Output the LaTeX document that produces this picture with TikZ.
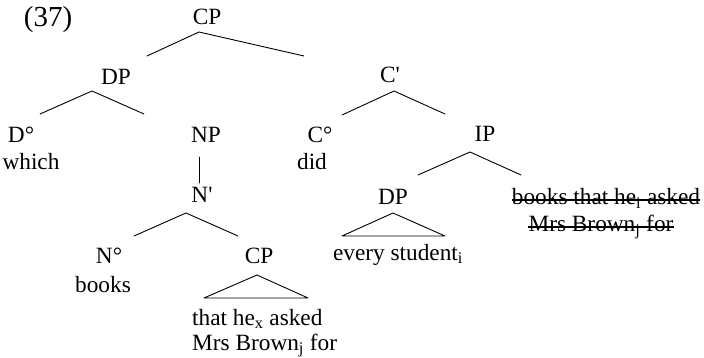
\documentclass[tikz,border=0pt]{standalone}
\usepackage{fontspec}
\setmainfont{Liberation Serif}
\begin{document}
\begin{tikzpicture}[x=1pt,y=-1pt,
  lbl/.style={anchor=base,inner sep=0pt,font=\fontsize{23.3}{27}\selectfont},
  lblw/.style={lbl,anchor=base west},
  branch/.style={line width=0.9pt,line cap=round,line join=round},
  strike/.style={line width=1.3pt}]
\useasboundingbox (0,0) rectangle (704,358);
% labels
\node[lbl,font=\fontsize{29}{33}\selectfont] (ex) at (48,27) {(37)};
\node[lbl] (cp) at (207,25) {CP};
\node[lbl] (dp) at (116,85) {DP};
\node[lbl] (d) at (21,143) {D°};
\node[lbl] (which) at (31,170) {which};
\node[lbl] (np) at (206,143) {NP};
\node[lbl] (c) at (320,143) {C°};
\node[lbl] (did) at (312,170) {did};
\node[lbl] (cbar) at (390,83) {C\textquotesingle};
\node[lbl] (ip) at (485,142) {IP};
\node[lbl] (dp2) at (393,205) {DP};
\node[lbl] (every) at (398,260) {every student\textsubscript{i}};
\node[lbl] (del1) at (606,205) {books that he\textsubscript{i} asked};
\node[lbl] (del2) at (601,232) {Mrs Brown\textsubscript{j} for};
\node[lbl] (nbar) at (202,203) {N\textquotesingle};
\node[lbl] (n) at (109,263) {N°};
\node[lbl] (books) at (103,292) {books};
\node[lbl] (cp2) at (259,263) {CP};
\node[lblw] (that) at (192,325) {that he\textsubscript{x} asked};
\node[lblw] (mrs) at (192,350) {Mrs Brown\textsubscript{j} for};
% strike-through
\draw[strike] ([yshift=5pt]del1.base west) -- ([yshift=5pt]del1.base east);
\draw[strike] ([yshift=5pt]del2.base west) -- ([yshift=5pt]del2.base east);
% branch points
\coordinate (cpA) at (199,32); \coordinate (cpL) at (147,56); \coordinate (cpR) at (304,56);
\coordinate (dpA) at (92,91); \coordinate (dpL) at (40,114); \coordinate (dpR) at (144,114);
\coordinate (cbA) at (394,91); \coordinate (cbL) at (342,115); \coordinate (cbR) at (445,114);
\coordinate (npT) at (199,157); \coordinate (npB) at (199,183);
\coordinate (nbA) at (186,213); \coordinate (nbL) at (134,236); \coordinate (nbR) at (238,236);
\coordinate (ipA) at (470,152); \coordinate (ipL) at (418,175); \coordinate (ipR) at (521,175);
\coordinate (t1A) at (393,213); \coordinate (t1L) at (342,236); \coordinate (t1R) at (445,236);
\coordinate (t2A) at (257,275); \coordinate (t2L) at (204,298); \coordinate (t2R) at (308,298);
% branches
\draw[branch] (cpL) -- (cpA) -- (cpR);
\draw[branch] (dpL) -- (dpA) -- (dpR);
\draw[branch] (cbL) -- (cbA) -- (cbR);
\draw[branch] (npT) -- (npB);
\draw[branch] (nbL) -- (nbA) -- (nbR);
\draw[branch] (ipL) -- (ipA) -- (ipR);
\draw[branch] (t1A) -- (t1L) -- (t1R) -- cycle;
\draw[branch] (t2A) -- (t2L) -- (t2R) -- cycle;
\end{tikzpicture}
\end{document}
